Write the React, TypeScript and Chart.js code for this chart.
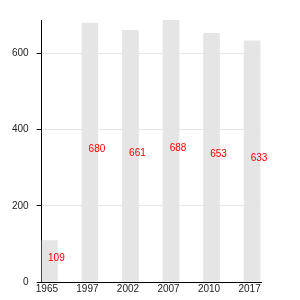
import React, { useEffect, useRef } from "react";
import { Chart, registerables } from "chart.js";

Chart.register(...registerables);

const years = ["1965", "1997", "2002", "2007", "2010", "2017"];
const values = [109, 680, 661, 688, 653, 633];
const yTicks = [0, 200, 400, 600];

const FONT = "'Liberation Sans', Arial, sans-serif";

const valueLabels = {
  id: "valueLabels",
  afterDatasetsDraw(chart: any) {
    const ctx = chart.ctx;
    const meta = chart.getDatasetMeta(0);
    ctx.save();
    ctx.fillStyle = "#ff0000";
    ctx.font = `10px ${FONT}`;
    ctx.textAlign = "center";
    ctx.textBaseline = "alphabetic";
    meta.data.forEach((bar: any, i: number) => {
      const mid = (bar.y + bar.base) / 2;
      ctx.fillText(String(values[i]), bar.x + 7, mid);
    });
    ctx.restore();
  },
};

export default function App() {
  const ref = useRef<HTMLCanvasElement>(null);
  useEffect(() => {
    const chart = new Chart(ref.current!, {
      type: "bar",
      data: {
        datasets: [
          {
            data: values.map((v, i) => ({ x: i, y: v })),
            backgroundColor: "#e5e5e5",
            borderWidth: 0,
            barThickness: 16,
          },
        ],
      },
      options: {
        animation: false,
        responsive: false,
        devicePixelRatio: 1,
        layout: { padding: { left: 4, top: 20, right: 39, bottom: 4 } },
        plugins: { legend: { display: false }, tooltip: { enabled: false } },
        scales: {
          x: {
            type: "linear",
            offset: false,
            min: -0.19,
            max: 5.22,
            afterBuildTicks: (axis: any) => {
              axis.ticks = years.map((_, i) => ({ value: i }));
            },
            grid: { display: false, drawTicks: false, offset: false },
            border: { display: true, color: "#000", width: 1 },
            ticks: {
              padding: 1,
              labelOffset: -2.5,
              color: "#222",
              font: { family: FONT, size: 10 },
              maxRotation: 0,
              autoSkip: false,
              callback: (v: any) => years[v] ?? "",
            },
          },
          y: {
            min: 0,
            max: 688,
            afterBuildTicks: (axis: any) => {
              axis.ticks = yTicks.map((v) => ({ value: v }));
            },
            grid: { color: "#e6e6e6", tickColor: "#000", tickLength: 5 },
            border: { display: true, color: "#000", width: 1 },
            ticks: {
              padding: 8,
              color: "#222",
              font: { family: FONT, size: 10 },
            },
          },
        },
      },
      plugins: [valueLabels],
    });
    return () => chart.destroy();
  }, []);
  return (
    <div style={{ position: "absolute", left: 0, top: 0, width: 300, height: 300 }}>
      <canvas ref={ref} width={300} height={300} />
    </div>
  );
}
